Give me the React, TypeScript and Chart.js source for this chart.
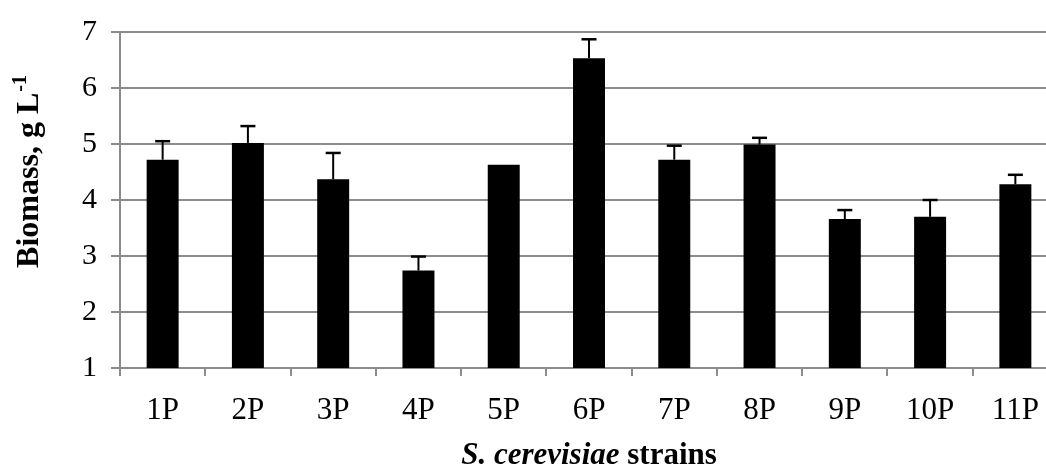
import React, { useEffect, useRef } from "react";
import { Chart, registerables } from "chart.js";

Chart.register(...registerables);

const categories = ["1P", "2P", "3P", "4P", "5P", "6P", "7P", "8P", "9P", "10P", "11P"];
const biomass = [4.72, 5.02, 4.37, 2.74, 4.63, 6.53, 4.72, 4.99, 3.66, 3.7, 4.28];
const errors = [0.33, 0.3, 0.47, 0.25, 0, 0.34, 0.25, 0.12, 0.16, 0.3, 0.17];
const yTitleMain = "Biomass, g L";
const yTitleSup = "-1";
const xTitleItalic = "S. cerevisiae";
const xTitleRest = " strains";

const SERIF = "'Liberation Serif', 'Times New Roman', serif";

const errorBarPlugin = {
  id: "errorBars",
  afterDatasetsDraw(chart: any) {
    const ctx = chart.ctx;
    const meta = chart.getDatasetMeta(0);
    const yScale = chart.scales.y;
    ctx.save();
    ctx.strokeStyle = "#000";
    meta.data.forEach((bar: any, i: number) => {
      const e = errors[i];
      if (!e) return;
      const yTop = yScale.getPixelForValue(biomass[i] + e);
      const yBar = yScale.getPixelForValue(biomass[i]);
      ctx.lineWidth = 2;
      ctx.beginPath();
      ctx.moveTo(bar.x, yBar);
      ctx.lineTo(bar.x, yTop);
      ctx.stroke();
      ctx.lineWidth = 2.5;
      ctx.beginPath();
      ctx.moveTo(bar.x - 7.5, yTop);
      ctx.lineTo(bar.x + 7.5, yTop);
      ctx.stroke();
    });
    ctx.restore();
  },
};

const titlePlugin = {
  id: "axisTitles",
  afterDraw(chart: any) {
    const ctx = chart.ctx;
    const area = chart.chartArea;
    ctx.save();
    ctx.fillStyle = "#000";
    ctx.textAlign = "left";
    ctx.textBaseline = "alphabetic";
    // Y title
    ctx.save();
    ctx.translate(38, 172);
    ctx.rotate(-Math.PI / 2);
    ctx.font = `bold 32px ${SERIF}`;
    const w1 = ctx.measureText(yTitleMain).width;
    ctx.font = `bold 20px ${SERIF}`;
    const w2 = ctx.measureText(yTitleSup).width;
    const start = -(w1 + w2) / 2;
    ctx.font = `bold 32px ${SERIF}`;
    ctx.fillText(yTitleMain, start, 0);
    ctx.font = `bold 20px ${SERIF}`;
    ctx.fillText(yTitleSup, start + w1 + 1, -12);
    ctx.restore();
    // X title
    ctx.font = `italic bold 31px ${SERIF}`;
    const a = ctx.measureText(xTitleItalic).width;
    ctx.font = `bold 31px ${SERIF}`;
    const b = ctx.measureText(xTitleRest).width;
    const cx = (area.left + area.right) / 2;
    const x0 = cx - (a + b) / 2;
    ctx.font = `italic bold 31px ${SERIF}`;
    ctx.fillText(xTitleItalic, x0, 464);
    ctx.font = `bold 31px ${SERIF}`;
    ctx.fillText(xTitleRest, x0 + a, 464);
    ctx.restore();
  },
};

export default function App() {
  const ref = useRef<HTMLCanvasElement>(null);
  useEffect(() => {
    if (!ref.current) return;
    const chart = new Chart(ref.current, {
      type: "bar",
      data: {
        labels: categories,
        datasets: [
          {
            data: biomass,
            backgroundColor: "#000",
            borderWidth: 0,
            categoryPercentage: 1,
            barPercentage: 0.375,
          },
        ],
      },
      options: {
        animation: false,
        responsive: false,
        devicePixelRatio: 1,
        layout: { padding: { top: 15, right: 0, left: 0, bottom: 0 } },
        plugins: {
          legend: { display: false },
          tooltip: { enabled: false },
        },
        scales: {
          x: {
            offset: true,
            grid: {
              display: true,
              offset: true,
              drawOnChartArea: false,
              drawTicks: true,
              tickLength: 8,
              color: "#8c8c8c",
              lineWidth: 2,
            },
            border: { display: true, color: "#8c8c8c", width: 2 },
            ticks: {
              color: "#000",
              font: { family: SERIF, size: 31 },
              padding: 16,
              maxRotation: 0,
            },
            afterFit(scale: any) {
              scale.height = 104;
            },
          },
          y: {
            min: 1,
            max: 7,
            ticks: {
              stepSize: 1,
              color: "#000",
              font: { family: SERIF, size: 30 },
              padding: 14,
            },
            grid: {
              color: "#8c8c8c",
              lineWidth: 2,
              tickLength: 9,
            },
            border: { display: true, color: "#8c8c8c", width: 2 },
            afterFit(scale: any) {
              scale.width = 120;
            },
          },
        },
      },
      plugins: [errorBarPlugin, titlePlugin],
    });
    return () => chart.destroy();
  }, []);
  return (
    <div
      style={{
        position: "fixed",
        left: 0,
        top: 0,
        width: 1046,
        height: 472,
        overflow: "hidden",
        background: "#fff",
      }}
    >
      <canvas ref={ref} width={1058} height={472} style={{ display: "block" }} />
    </div>
  );
}
